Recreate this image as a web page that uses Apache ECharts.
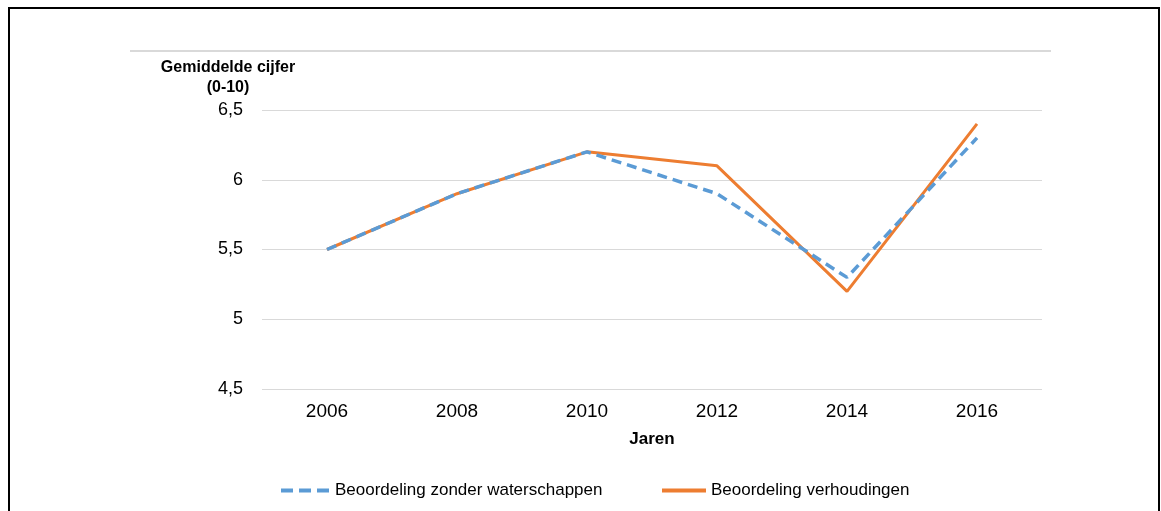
<!DOCTYPE html>
<html><head><meta charset="utf-8">
<script src="https://cdn.jsdelivr.net/npm/echarts@6/dist/echarts.min.js"></script>
<style>html,body{margin:0;padding:0;background:#fff}#c{width:1161px;height:511px}</style>
</head><body><div id="c"></div>
<script>
const categories = ['2006','2008','2010','2012','2014','2016'];
const zonderWaterschappen = [5.5, 5.9, 6.2, 5.9, 5.3, 6.3];
const verhoudingen = [5.5, 5.9, 6.2, 6.1, 5.2, 6.4];
const seriesNames = ['Beoordeling zonder waterschappen', 'Beoordeling verhoudingen'];
const yTicks = {min: 4.5, max: 6.5, interval: 0.5};

const font = '"Liberation Sans", Arial, sans-serif';
const chart = echarts.init(document.getElementById('c'));
chart.setOption({
  animation: false,
  backgroundColor: '#fff',
  textStyle: {fontFamily: font},
  graphic: [
    {type: 'rect', shape: {x: 9, y: 8, width: 1150, height: 520}, style: {fill: 'none', stroke: '#000', lineWidth: 2}, silent: true},
    {type: 'line', shape: {x1: 130, y1: 51, x2: 1051, y2: 51}, style: {stroke: '#d9d9d9', lineWidth: 2}, silent: true}
  ],
  grid: {left: 262, right: 119, top: 110, bottom: 122, containLabel: false},
  xAxis: {
    type: 'category', data: categories, boundaryGap: true,
    name: 'Jaren', nameLocation: 'middle', nameGap: 42,
    nameTextStyle: {fontSize: 17, fontWeight: 'bold', color: '#000', fontFamily: font},
    axisLine: {show: false}, axisTick: {show: false},
    axisLabel: {fontSize: 19, color: '#000', margin: 13, fontFamily: font}
  },
  yAxis: {
    type: 'value', min: yTicks.min, max: yTicks.max, interval: yTicks.interval,
    name: 'Gemiddelde cijfer\n(0-10)', nameLocation: 'end', nameGap: 12,
    nameTextStyle: {fontSize: 16, fontWeight: 'bold', color: '#000', align: 'center', padding: [0, 0, 0, -68], lineHeight: 20, fontFamily: font},
    axisLine: {show: false}, axisTick: {show: false},
    axisLabel: {fontSize: 18, color: '#000', margin: 19, fontFamily: font, formatter: v => String(v).replace('.', ',')},
    splitLine: {lineStyle: {color: '#d9d9d9', width: 1}}
  },
  legend: [
    {data: [seriesNames[0]], left: 274, top: 477, itemWidth: 49, itemHeight: 14, itemGap: 6,
     itemStyle: {opacity: 0}, lineStyle: {width: 4, type: [12, 6]},
     textStyle: {fontSize: 17, color: '#000', fontFamily: font}},
    {data: [seriesNames[1]], left: 655, top: 477, itemWidth: 44, itemHeight: 14, itemGap: 5,
     itemStyle: {opacity: 0}, lineStyle: {width: 4},
     textStyle: {fontSize: 17, color: '#000', fontFamily: font}}
  ],
  series: [
    {name: seriesNames[0], type: 'line', data: zonderWaterschappen, symbol: 'none', z: 3,
     lineStyle: {color: '#5B9BD5', width: 3.5, type: [10, 6]}, itemStyle: {color: '#5B9BD5'}},
    {name: seriesNames[1], type: 'line', data: verhoudingen, symbol: 'none', z: 2,
     lineStyle: {color: '#ED7D31', width: 3}, itemStyle: {color: '#ED7D31'}}
  ]
});
</script></body></html>
